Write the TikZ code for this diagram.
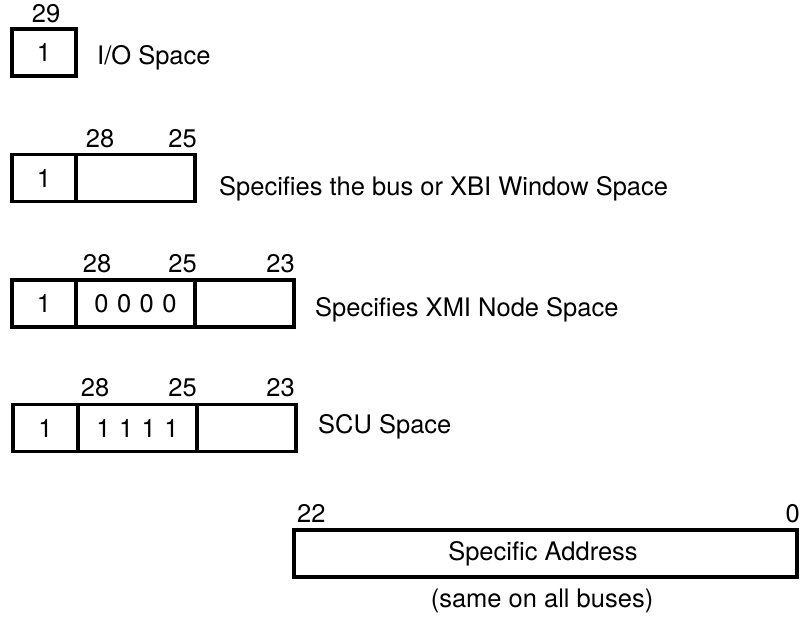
\documentclass[tikz,border=0pt]{standalone}
\usepackage{fontspec}
\setmainfont{TeX Gyre Heros}
\begin{document}
\begin{tikzpicture}[x=1pt,y=-1pt,
  font=\fontsize{25.5pt}{30pt}\selectfont,
  cell/.style={draw=black, line width=3.3pt, inner sep=0pt, minimum height=47pt},
  lbl/.style={inner sep=0pt, anchor=base},
  lblr/.style={inner sep=0pt, anchor=base east},
  lbll/.style={inner sep=0pt, anchor=base west},
  desc/.style={inner sep=0pt, anchor=base west}]
\useasboundingbox (0,0) rectangle (808,626);

% I/O Space
\node[cell, minimum width=64pt] (a1) at (44,52.5) {1};
\node[lbl] (a29) at (46,23) {29};
\node[desc] (at) at (97,65) {I/O Space};

% Bus / XBI window
\node[cell, minimum width=64pt] (b1) at (44,178) {1};
\node[cell, minimum width=119pt] (b2) at (135.5,178) {};
\node[lbl] (b28) at (100,147) {28};
\node[lblr] (b25) at (197,147) {25};
\node[desc] (bt) at (219,195) {Specifies the bus or XBI Window Space};

% XMI node
\node[cell, minimum width=64pt] (c1) at (44,303.5) {1};
\node[cell, minimum width=119pt] (c2) at (135.5,303.5) {0\,\,0\,\,0\,\,0};
\node[cell, minimum width=99pt] (c3) at (244.5,303.5) {};
\node[lbl] (c28) at (97,272) {28};
\node[lblr] (c25) at (197,272) {25};
\node[lblr] (c23) at (295,272) {23};
\node[desc] (ct) at (315,316) {Specifies XMI Node Space};

% SCU
\node[cell, minimum width=65pt] (d1) at (45.5,428) {1};
\node[cell, minimum width=119pt] (d2) at (137.5,428) {1\,\,1\,\,1\,\,1};
\node[cell, minimum width=99pt] (d3) at (246.5,428) {};
\node[lbl] (d28) at (95,396) {28};
\node[lblr] (d25) at (197,396) {25};
\node[lblr] (d23) at (295,396) {23};
\node[desc] (dt) at (318,433) {SCU Space};

% Specific address
\node[cell, minimum width=503pt, minimum height=47pt] (e1) at (545.5,553.5) {};
\node[lbl] (et) at (543,560) {Specific Address};
\node[lbll] (e22) at (297,522) {22};
\node[lblr] (e0) at (800,522) {0};
\node[lbl] (es) at (542,607) {(same on all buses)};
\end{tikzpicture}
\end{document}
